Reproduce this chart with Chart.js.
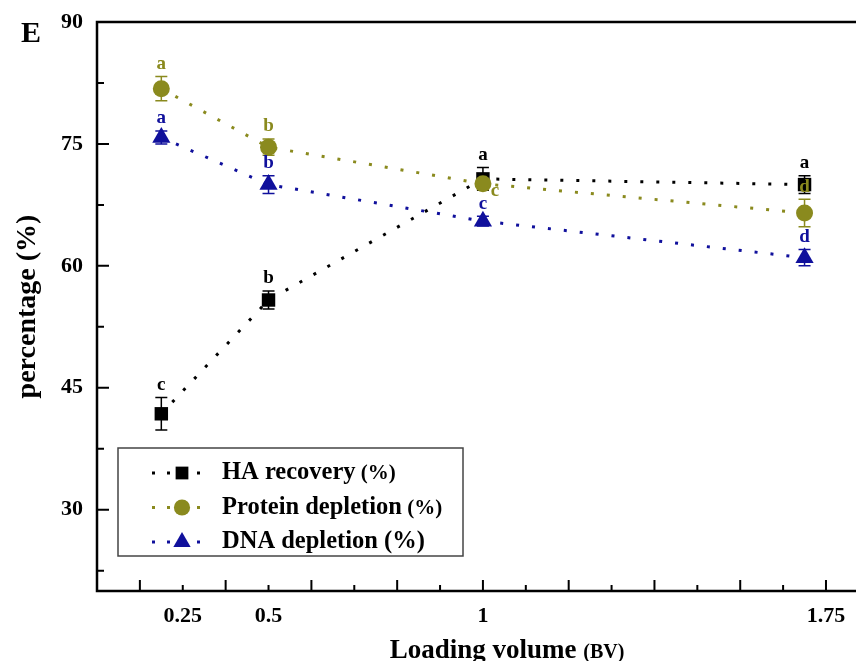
<!DOCTYPE html>
<html>
<head>
<meta charset="utf-8">
<script src="https://cdn.jsdelivr.net/npm/chart.js@4/dist/chart.umd.min.js"></script>
<style>
  html, body { margin: 0; padding: 0; background: #fff; overflow: hidden; }
  #wrap { width: 856px; height: 661px; position: relative; }
</style>
</head>
<body>
<div id="wrap"><canvas id="chart" width="856" height="661"></canvas></div>
<script>
// values
const loadingVolume = [0.25, 0.5, 1, 1.75];
const haRecovery = [41.8, 55.8, 70.7, 70.0];
const haError = [2.0, 1.1, 1.4, 1.1];
const proteinDepletion = [81.8, 74.6, 70.1, 66.5];
const proteinError = [1.5, 1.0, 0.7, 1.7];
const dnaDepletion = [75.8, 70.0, 65.5, 61.0];
const dnaError = [0.8, 1.1, 0.6, 1.0];
const haLetters = ["c", "b", "a", "a"];
const proteinLetters = ["a", "b", "c", "d"];
const dnaLetters = ["a", "b", "c", "d"];
const xTickAt = [0.3, 0.5, 1, 1.8];
const xTickLabels = ["0.25", "0.5", "1", "1.75"];
const yTickValues = [30, 45, 60, 75, 90];

const serif = "'Liberation Serif', 'DejaVu Serif', serif";
const black = "#000000";
const olive = "#8a8a1e";
const navy = "#10109c";

const toPoints = (ys) => ys.map((y, i) => ({ x: loadingVolume[i], y: y }));

const series = [
    { label: "HA recovery", suffix: " (%)", suffixSize: 21, color: black, style: "rect", radius: 9.5, data: haRecovery, err: haError, letters: haLetters, order: 3 },
    { label: "Protein depletion", suffix: " (%)", suffixSize: 21, color: olive, style: "circle", radius: 8.5, data: proteinDepletion, err: proteinError, letters: proteinLetters, order: 2 },
    { label: "DNA depletion", suffix: " (%)", suffixSize: 24.5, color: navy, style: "triangle", radius: 10.5, data: dnaDepletion, err: dnaError, letters: dnaLetters, order: 1 },
];

const near = (a, b) => Math.abs(a - b) < 1e-6;

const drawMarker = (ctx, style, x, y, r, color) => {
    ctx.save();
    ctx.fillStyle = color;
    ctx.beginPath();
    if (style === "rect") {
        const s = r * Math.SQRT1_2;
        ctx.rect(x - s, y - s, 2 * s, 2 * s);
    } else if (style === "circle") {
        ctx.arc(x, y, r, 0, Math.PI * 2);
    } else {
        ctx.moveTo(x, y - r);
        ctx.lineTo(x + r * Math.sqrt(3) / 2, y + r / 2);
        ctx.lineTo(x - r * Math.sqrt(3) / 2, y + r / 2);
        ctx.closePath();
    }
    ctx.fill();
    ctx.restore();
};

const decorations = {
    id: "decorations",
    beforeDatasetsDraw(chart) {
        // error bars
        const ctx = chart.ctx;
        const xs = chart.scales.x, ys = chart.scales.y;
        ctx.save();
        ctx.lineWidth = 1.5;
        series.forEach(s => {
            ctx.strokeStyle = s.color;
            s.data.forEach((v, i) => {
                const px = xs.getPixelForValue(loadingVolume[i]);
                const top = ys.getPixelForValue(v + s.err[i]);
                const bot = ys.getPixelForValue(v - s.err[i]);
                ctx.beginPath();
                ctx.moveTo(px, top); ctx.lineTo(px, bot);
                ctx.moveTo(px - 6, top); ctx.lineTo(px + 6, top);
                ctx.moveTo(px - 6, bot); ctx.lineTo(px + 6, bot);
                ctx.stroke();
            });
        });
        ctx.restore();
    },
    afterDraw(chart) {
        const ctx = chart.ctx;
        const xs = chart.scales.x, ys = chart.scales.y;
        const area = chart.chartArea;
        ctx.save();

        // frame
        ctx.strokeStyle = "#000";
        ctx.lineWidth = 2.5;
        ctx.beginPath();
        ctx.moveTo(chart.width, area.top);
        ctx.lineTo(area.left, area.top);
        ctx.lineTo(area.left, area.bottom);
        ctx.lineTo(chart.width, area.bottom);
        ctx.stroke();

        // inward tick marks
        ctx.lineWidth = 2;
        ctx.beginPath();
        for (let k = 2; k <= 18; k++) {
            const px = xs.getPixelForValue(k / 10);
            const len = k % 2 === 0 ? 11 : 6;
            ctx.moveTo(px, area.bottom);
            ctx.lineTo(px, area.bottom - len);
        }
        for (let k = 3; k <= 12; k++) {
            const py = ys.getPixelForValue(k * 7.5);
            const len = k % 2 === 0 ? 12 : 7;
            ctx.moveTo(area.left, py);
            ctx.lineTo(area.left + len, py);
        }
        ctx.stroke();

        // significance letters
        ctx.font = "bold 19px " + serif;
        ctx.textAlign = "center";
        ctx.textBaseline = "bottom";
        series.forEach(s => {
            ctx.fillStyle = s.color;
            s.letters.forEach((letter, i) => {
                const px = xs.getPixelForValue(loadingVolume[i]);
                if (s.label === "Protein depletion" && i === 2) {
                    // this one sits below-right of the marker in the figure
                    ctx.fillText(letter, px + 12, ys.getPixelForValue(s.data[i]) + 17);
                    return;
                }
                const top = ys.getPixelForValue(s.data[i] + s.err[i]);
                ctx.fillText(letter, px, top - 3);
            });
        });

        // legend box
        const lx = 118, ly = 448, lw = 345, lh = 108;
        ctx.strokeStyle = "#444";
        ctx.lineWidth = 1.5;
        ctx.strokeRect(lx, ly, lw, lh);
        series.forEach((s, i) => {
            const cy = ly + 25 + i * 34.5;
            ctx.save();
            ctx.strokeStyle = s.color;
            ctx.lineWidth = 3;
            ctx.setLineDash([3, 12]);
            ctx.beginPath();
            ctx.moveTo(152, cy); ctx.lineTo(205, cy);
            ctx.stroke();
            ctx.restore();
            drawMarker(ctx, s.style, 182, cy, s.style === "triangle" ? 10 : s.radius * 0.95, s.color);
            ctx.fillStyle = "#000";
            ctx.textAlign = "left";
            ctx.textBaseline = "middle";
            ctx.font = "bold 24.5px " + serif;
            ctx.fillText(s.label, 222, cy);
            const w = ctx.measureText(s.label).width;
            ctx.font = "bold " + s.suffixSize + "px " + serif;
            ctx.fillText(s.suffix, 222 + w, cy + (24.5 - s.suffixSize) / 4);
        });

        // axis titles
        ctx.fillStyle = "#000";
        ctx.textBaseline = "middle";
        ctx.font = "bold 27px " + serif;
        const main = "Loading volume ";
        const mw = ctx.measureText(main).width;
        ctx.font = "bold 20px " + serif;
        const bw = ctx.measureText("(BV)").width;
        const startX = 507 - (mw + bw) / 2;
        ctx.textAlign = "left";
        ctx.font = "bold 27px " + serif;
        ctx.fillText(main, startX, 651);
        ctx.font = "bold 20px " + serif;
        ctx.fillText("(BV)", startX + mw, 653);

        ctx.save();
        ctx.translate(28, (area.top + area.bottom) / 2);
        ctx.rotate(-Math.PI / 2);
        ctx.textAlign = "center";
        ctx.font = "bold 28px " + serif;
        ctx.fillText("percentage (%)", 0, 0);
        ctx.restore();

        // panel letter
        ctx.font = "bold 30px " + serif;
        ctx.textAlign = "left";
        ctx.fillText("E", 21, 34);
        ctx.restore();
    }
};

new Chart(document.getElementById("chart").getContext("2d"), {
    type: "line",
    data: {
        datasets: series.map(s => ({
            label: s.label,
            data: toPoints(s.data),
            order: s.order,
            borderColor: s.color,
            backgroundColor: s.color,
            borderWidth: 3,
            borderDash: [3, 13],
            pointStyle: s.style,
            pointRadius: s.radius,
            pointBorderWidth: 0,
            pointBackgroundColor: s.color,
            tension: 0,
            clip: false
        }))
    },
    options: {
        responsive: false,
        animation: false,
        events: [],
        layout: { autoPadding: false, padding: { top: 22, left: 0, right: 0, bottom: 0 } },
        plugins: { legend: { display: false }, tooltip: { enabled: false } },
        scales: {
            x: {
                type: "linear",
                min: 0.1,
                max: 1.87,
                grid: { display: false },
                border: { display: false },
                afterBuildTicks: (scale) => { scale.ticks = xTickAt.map(v => ({ value: v })); },
                afterFit: (scale) => {
                    scale.height = 70;
                    scale.paddingLeft = 0;
                    scale.paddingRight = 0;
                },
                ticks: {
                    autoSkip: false,
                    maxRotation: 0,
                    padding: 4,
                    color: "#000",
                    font: { family: serif, size: 22, weight: "bold" },
                    callback: (value) => {
                        const i = xTickAt.findIndex(v => near(v, value));
                        return i >= 0 ? xTickLabels[i] : "";
                    }
                }
            },
            y: {
                min: 20,
                max: 90,
                grid: { display: false },
                border: { display: false },
                afterBuildTicks: (scale) => { scale.ticks = yTickValues.map(v => ({ value: v })); },
                afterFit: (scale) => {
                    scale.width = 97;
                    scale.paddingTop = 0;
                    scale.paddingBottom = 0;
                },
                ticks: {
                    padding: 6,
                    color: "#000",
                    font: { family: serif, size: 22, weight: "bold" }
                }
            }
        }
    },
    plugins: [decorations]
});
</script>
</body>
</html>
